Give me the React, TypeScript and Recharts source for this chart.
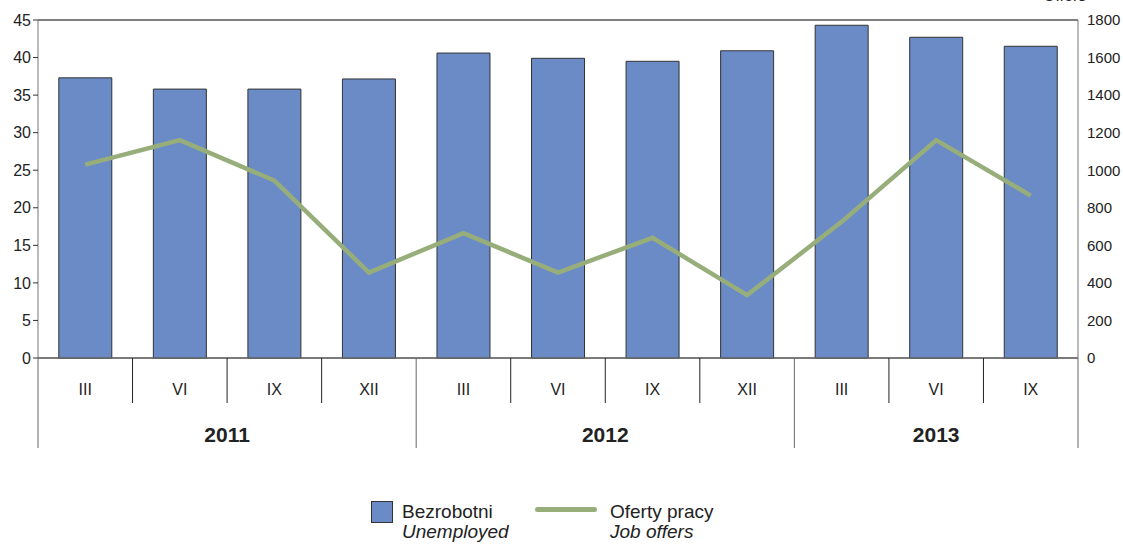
import React from "react";
import { Bar, CartesianGrid, ComposedChart, Line, XAxis, YAxis } from "recharts";

const quarters = ["III", "VI", "IX", "XII", "III", "VI", "IX", "XII", "III", "VI", "IX"];
const unemployed = [37.3, 35.8, 35.8, 37.15, 40.6, 39.9, 39.5, 40.9, 44.3, 42.7, 41.5];
const offers = [1030, 1160, 945, 455, 665, 455, 640, 335, 725, 1160, 865];
const years = [
  { label: "2011", count: 4 },
  { label: "2012", count: 4 },
  { label: "2013", count: 3 },
];
const leftTicks = [0, 5, 10, 15, 20, 25, 30, 35, 40, 45];
const rightTicks = [0, 200, 400, 600, 800, 1000, 1200, 1400, 1600, 1800];

const data = quarters.map((q, i) => ({ q, unemployed: unemployed[i], offers: offers[i] }));

const W = 1123;
const H = 544;
const LEFT_W = 38;
const RIGHT_W = 45;
const X_H = 186;
const band = (W - LEFT_W - RIGHT_W) / quarters.length;
const font = "'Liberation Sans', Arial, sans-serif";

const yearStarts: Record<number, { label: string; count: number }> = {};
let acc = 0;
years.forEach((y) => {
  yearStarts[acc] = y;
  acc += y.count;
});

function QuarterTick(props: any) {
  const { x, y, payload, index } = props;
  const left = x - band / 2;
  const top = y;
  const yr = yearStarts[index];
  return (
    <g>
      {!yr && <line x1={left} x2={left} y1={top} y2={top + 45} stroke="#222" strokeWidth={1} />}
      {yr && <line x1={left} x2={left} y1={top} y2={top + 90} stroke="#666" strokeWidth={1} />}
      {index === quarters.length - 1 && (
        <line x1={x + band / 2} x2={x + band / 2} y1={top} y2={top + 90} stroke="#666" strokeWidth={1} />
      )}
      <text x={x} y={top + 37} textAnchor="middle" fontSize={16} fill="#222" fontFamily={font}>
        {payload.value}
      </text>
      {yr && (
        <text
          x={left + (yr.count * band) / 2}
          y={top + 84}
          textAnchor="middle"
          fontSize={21}
          fontWeight="bold"
          fill="#222"
          fontFamily={font}
        >
          {yr.label}
        </text>
      )}
    </g>
  );
}

function Legend() {
  return (
    <div
      style={{
        position: "absolute",
        left: 371,
        top: 501,
        display: "flex",
        fontFamily: font,
        fontSize: 19,
        color: "#222",
        lineHeight: "20px",
      }}
    >
      <div style={{ width: 22, height: 22, background: "#6a8bc6", border: "1px solid #333", boxSizing: "border-box" }} />
      <div style={{ marginLeft: 9, width: 133, marginTop: 1 }}>
        <div>Bezrobotni</div>
        <div style={{ fontStyle: "italic" }}>Unemployed</div>
      </div>
      <div style={{ width: 62, height: 5, background: "#97ae7b", borderRadius: 3, marginTop: 6 }} />
      <div style={{ marginLeft: 13, marginTop: 1 }}>
        <div>Oferty pracy</div>
        <div style={{ fontStyle: "italic" }}>Job offers</div>
      </div>
    </div>
  );
}

export default function App() {
  return (
    <div style={{ position: "absolute", left: 0, top: 0, width: W, height: H, background: "#fff", overflow: "hidden" }}>
      <ComposedChart
        width={W}
        height={H}
        data={data}
        margin={{ top: 20, right: 0, left: 0, bottom: 0 }}
        barCategoryGap="22%"
      >
        <CartesianGrid vertical={false} stroke="#000" strokeWidth={1} />
        <XAxis
          dataKey="q"
          interval={0}
          axisLine={{ stroke: "#777" }}
          tickLine={false}
          tickSize={0}
          tickMargin={0}
          tick={<QuarterTick />}
          height={X_H}
        />
        <YAxis
          yAxisId="left"
          domain={[0, 45]}
          ticks={leftTicks}
          width={LEFT_W}
          axisLine={{ stroke: "#777" }}
          tickLine={{ stroke: "#333" }}
          tickSize={5}
          tick={{ fontSize: 16, fill: "#222", fontFamily: font }}
          interval={0}
        />
        <YAxis
          yAxisId="right"
          orientation="right"
          domain={[0, 1800]}
          ticks={rightTicks}
          width={RIGHT_W}
          axisLine={{ stroke: "#777" }}
          tickLine={false}
          tickSize={0}
          tickMargin={9}
          tick={{ fontSize: 15, fill: "#222", fontFamily: font }}
          interval={0}
        />
        <Bar yAxisId="left" dataKey="unemployed" fill="#6a8bc6" stroke="#333" strokeWidth={1} isAnimationActive={false} />
        <Line
          yAxisId="right"
          dataKey="offers"
          stroke="#97ae7b"
          strokeWidth={4.5}
          dot={false}
          activeDot={false}
          type="linear"
          isAnimationActive={false}
        />
      </ComposedChart>
      <div style={{ position: "absolute", left: 1043, top: -13, fontFamily: font, fontSize: 16, color: "#222" }}>Offers</div>
      <Legend />
    </div>
  );
}
